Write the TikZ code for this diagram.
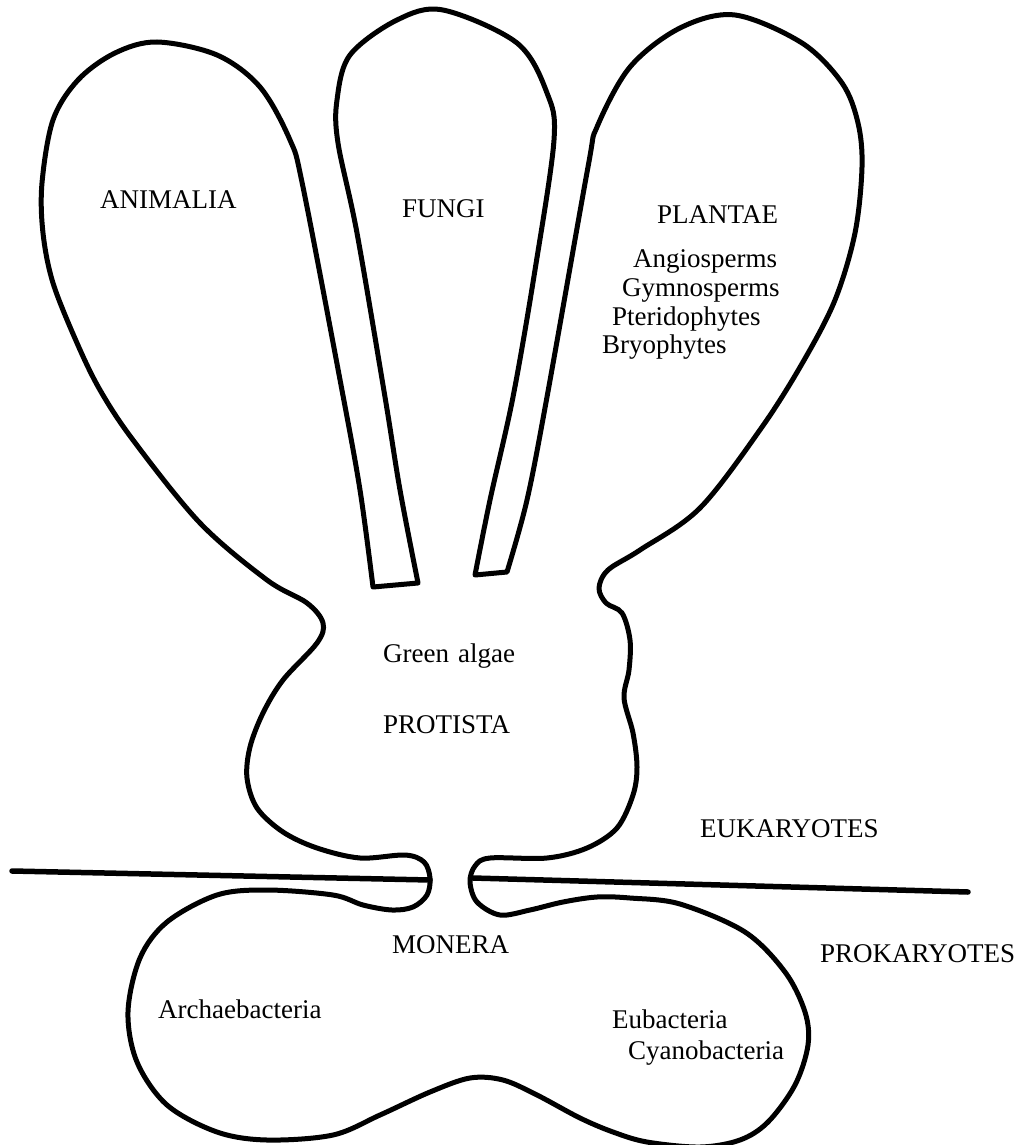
\documentclass[tikz,border=0pt]{standalone}
\usepackage{fontspec}
\setmainfont{Liberation Serif}
\begin{document}
\begin{tikzpicture}[x=1pt,y=-1pt,
  outline/.style={line width=5pt, line join=round},
  divider/.style={line width=5.5pt, line cap=round},
  lbl/.style={anchor=base west, inner sep=0pt, font=\fontsize{27}{30}\selectfont}]
\useasboundingbox (0,0) rectangle (1035,1145);
\fill[white] (0,0) rectangle (1035,1145);

% single closed outline: Plantae, Protista, Monera, Animalia ... Fungi
\draw[outline]
  plot[smooth, tension=0.55] coordinates {
    (507,572) (527,500) (547,397) (588,167) (597,127) (630,67) (680,28) (735,15)
    (802,43) (842,83) (858,123) (862,167) (855,233) (835,300) (803,362)
    (762,427) (700,508) (640,550) (608,570) (599,588) (606,603) (622,613)
    (630,640) (629,670) (624,698) (633,733) (637,767) (633,795) (617,828)
    (587,848) (547,858) (490,858) (475,866) (470,882) (477,902) (500,915)
    (530,910) (563,902) (597,897) (630,898) (680,904) (745,932) (785,972)
    (805,1012) (808,1045) (795,1085) (768,1122) (740,1140) (700,1147)
    (647,1142) (613,1132) (580,1118) (537,1095) (503,1080) (470,1078)
    (430,1092) (380,1115) (333,1135) (267,1140) (217,1132) (167,1105)
    (137,1062) (128,1012) (140,958) (167,922) (217,895) (267,890) (333,895)
    (363,905) (392,910) (413,907) (427,895) (430,878) (424,862) (405,855)
    (360,858) (317,848) (283,832) (257,808) (247,778) (250,747) (263,713)
    (283,680) (317,643) (323,623) (307,603) (267,580) (200,523) (133,440)
    (100,390) (77,343) (53,283) (43,233) (42,183) (53,120) (78,80) (115,53)
    (157,42) (217,55) (260,87) (290,140) (303,187) (341,385) (360,490) (373,587)}
  -- plot[smooth, tension=0.55] coordinates {
    (418,583) (400,490) (385,397) (357,233) (338,143) (337,100) (350,55)
    (397,20) (443,10) (517,43) (547,93) (554,140) (535,270) (513,397)
    (490,500) (475,575)}
  -- cycle;

% dividing line between eukaryotes and prokaryotes
\coordinate (dl1) at (12,871);
\coordinate (dl2) at (430,880);
\coordinate (dr1) at (473,878);
\coordinate (dr2) at (968,892);
\draw[divider] (dl1) -- (dl2);
\draw[divider] (dr1) -- (dr2);

% labels
\node[lbl] (animalia) at (100,208) {ANIMALIA};
\node[lbl] (fungi) at (402,217) {FUNGI};
\node[lbl] (plantae) at (657,223) {PLANTAE};
\node[lbl] (angio) at (633,267) {Angiosperms};
\node[lbl] (gymno) at (622,296) {Gymnosperms};
\node[lbl] (pterido) at (612,325) {Pteridophytes};
\node[lbl] (bryo) at (602,353) {Bryophytes};
\node[lbl] (green) at (383,662) {Green\hspace{9pt}algae};
\node[lbl] (protista) at (383,733) {PROTISTA};
\node[lbl] (euk) at (700,837) {EUKARYOTES};
\node[lbl] (monera) at (392,953) {MONERA};
\node[lbl] (prok) at (820,962) {PROKARYOTES};
\node[lbl] (archae) at (158,1018) {Archaebacteria};
\node[lbl] (eubact) at (612,1028) {Eubacteria};
\node[lbl] (cyano) at (628,1059) {Cyanobacteria};
\end{tikzpicture}
\end{document}
